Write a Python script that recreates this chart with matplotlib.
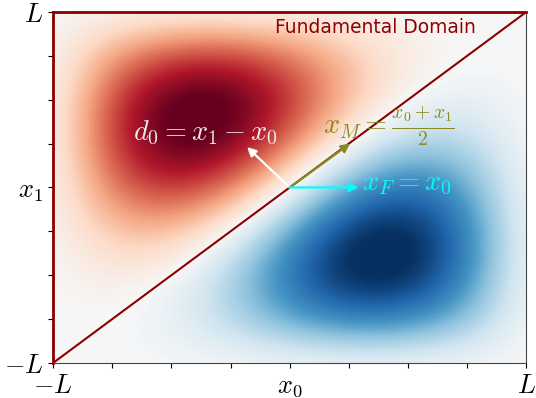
import numpy as np
import matplotlib
matplotlib.use("Agg")
import matplotlib.pyplot as plt

plt.rcParams['mathtext.fontset'] = 'cm'
plt.rcParams['font.family'] = ['DejaVu Sans']

# grid coordinates (x0 columns from -L to L, x1 rows from L down to -L)
grid_x = [-1.0, -0.75, -0.5, -0.25, 0.0, 0.25, 0.5, 0.75, 1.0]
# field values (red > 0 above diagonal, blue < 0 below)
field = [
    [0.0, 0.000, 0.000, 0.000, 0.000, 0.000, 0.000, 0.000, 0.0],  # x1 = L
    [0.0, 0.541, 0.883, 0.924, 0.707, 0.383, 0.117, 0.000, 0.0],  # x1 = 0.75L
    [0.0, 0.883, 1.414, 1.424, 1.000, 0.424, 0.000, -0.117, 0.0],  # x1 = 0.5L
    [0.0, 0.924, 1.424, 1.307, 0.707, 0.000, -0.424, -0.383, 0.0],  # x1 = 0.25L
    [0.0, 0.707, 1.000, 0.707, 0.000, -0.707, -1.000, -0.707, 0.0],  # x1 = 0
    [0.0, 0.383, 0.424, 0.000, -0.707, -1.307, -1.424, -0.924, 0.0],  # x1 = -0.25L
    [0.0, 0.117, 0.000, -0.424, -1.000, -1.424, -1.414, -0.883, 0.0],  # x1 = -0.5L
    [0.0, 0.000, -0.117, -0.383, -0.707, -0.924, -0.883, -0.541, 0.0],  # x1 = -0.75L
    [0.0, 0.000, 0.000, 0.000, 0.000, 0.000, 0.000, 0.000, 0.0],  # x1 = -L
]

tick_pos = [-1.0, -0.75, -0.5, -0.25, 0.0, 0.25, 0.5, 0.75, 1.0]
xtick_labels = [r'$-L$', '', '', '', r'$x_0$', '', '', '', r'$L$']
ytick_labels = [r'$-L$', '', '', '', r'$x_1$', '', '', '', r'$L$']

arrow_origin = (0.0, 0.0)
arrow_d0 = (-0.18, 0.23)
arrow_xM = (0.255, 0.25)
arrow_xF = (0.29, 0.0)

fig = plt.figure(figsize=(5.36, 3.98), dpi=100)
ax = fig.add_axes([0.099, 0.088, 0.883, 0.882])

h = grid_x[1] - grid_x[0]
ax.imshow(np.array(field), cmap='RdBu_r', vmin=-1.3, vmax=1.3,
          interpolation='bicubic', interpolation_stage='data',
          extent=(grid_x[0] - h / 2, grid_x[-1] + h / 2, grid_x[0] - h / 2, grid_x[-1] + h / 2),
          origin='upper', aspect='auto')
ax.set_xlim(-1, 1)
ax.set_ylim(-1, 1)

dred = '#8b0000'
# fundamental domain boundary
ax.plot([-1, 1], [-1, 1], color=dred, lw=1.5)
ax.plot([-1, 1], [1, 1], color=dred, lw=2, clip_on=False)
ax.plot([-1, -1], [-1, 1], color=dred, lw=2, clip_on=False)
ax.text(-0.062, 0.880, 'Fundamental Domain', color=dred, fontsize=13.4,
        ha='left', va='baseline')

def arrow(vec, color):
    ax.annotate('', xy=(arrow_origin[0] + vec[0], arrow_origin[1] + vec[1]),
                xytext=arrow_origin,
                arrowprops=dict(arrowstyle='-|>', color=color, lw=1.6,
                                mutation_scale=13, shrinkA=0, shrinkB=0))

arrow(arrow_d0, 'white')
arrow(arrow_xM, '#8a8a22')
arrow(arrow_xF, '#00ffff')

ax.text(-0.358, 0.271, r'$d_0 = x_1 - x_0$', color='#ececec', fontsize=20.3,
        ha='center', va='baseline')
ax.text(0.139, 0.305, r'$x_M = \frac{x_0+x_1}{2}$', color='#8a8a22', fontsize=20.3,
        ha='left', va='baseline')
ax.text(0.304, -0.015, r'$x_F = x_0$', color='#00ffff', fontsize=20.3,
        ha='left', va='baseline')

ax.set_xticks(tick_pos)
ax.set_xticklabels(xtick_labels, fontsize=19)
ax.set_yticks(tick_pos)
ax.set_yticklabels(ytick_labels, fontsize=19)
for s in ['left', 'top']:
    ax.spines[s].set_color(dred)
for s in ['right', 'bottom']:
    ax.spines[s].set_color('#444444')

fig.savefig('out.png', dpi=100)
